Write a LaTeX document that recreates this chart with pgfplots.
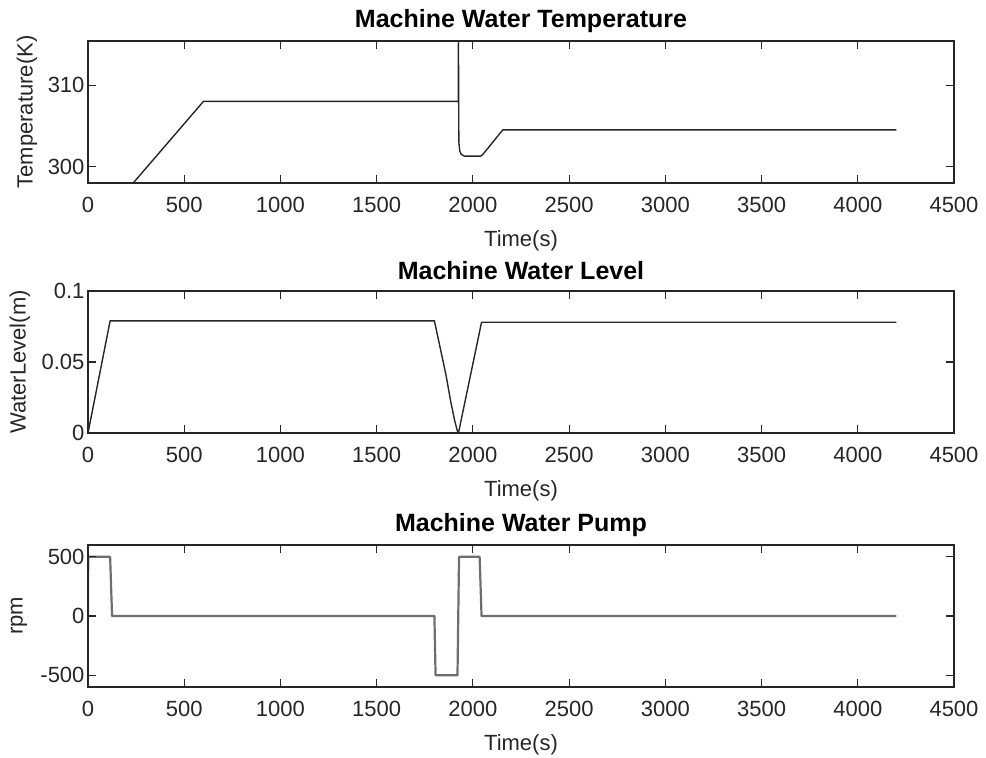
\documentclass[border=0pt]{standalone}
\usepackage{fontspec}
\setmainfont{Liberation Sans}
\usepackage{pgfplots}
\pgfplotsset{compat=1.18}

\definecolor{axgray}{RGB}{38,38,38}
\definecolor{pumpgray}{RGB}{110,110,110}

\pgfplotsset{
  mlab/.style={
    scale only axis,
    width=866pt, height=142pt,
    xmin=0, xmax=4500,
    xtick={0,500,...,4500},
    xticklabels={0,500,1000,1500,2000,2500,3000,3500,4000,4500},
    tick align=inside,
    major tick length=8pt,
    axis line style={axgray, line width=1.1pt},
    every tick/.style={axgray, line width=1.1pt},
    tick label style={font=\fontsize{22}{26}\selectfont, text=axgray},
    xticklabel style={yshift=-11pt},
    label style={font=\fontsize{22}{26}\selectfont, text=axgray},
    xlabel={Time(s)},
    xlabel style={at={(axis description cs:0.5,0)}, anchor=center, yshift=-58pt},
    title style={font=\fontsize{25}{29}\selectfont\bfseries, at={(axis description cs:0.5,1)}, anchor=center, yshift=14pt},
    axis on top,
  }
}

\begin{document}
\begin{tikzpicture}[x=1pt,y=1pt]

% temperature
\begin{axis}[mlab, at={(88pt,575pt)}, anchor=south west,
  title={Machine Water Temperature},
  ymin=298, ymax=315.4,
  ytick={300,310}, yticklabels={300,310},
  ylabel={Temperature(K)},
  ylabel style={at={(axis description cs:-0.0704,0.5)}, anchor=center}]
\addplot[axgray, line width=1.4pt, line join=round] coordinates {
(0,298) (235,298) (600,308) (1924,308) (1925,315.4) (1927,303) (1932,301.9)
(1940,301.5) (1955,301.3) (2040,301.3) (2050,301.45) (2062,301.8)
(2155,304.5) (4200,304.5)};
\end{axis}

% water level
\begin{axis}[mlab, at={(88pt,325pt)}, anchor=south west,
  title={Machine Water Level},
  ymin=0, ymax=0.1,
  ytick={0,0.05,0.1}, yticklabels={0,0.05,0.1},
  ylabel={WaterLevel(m)},
  ylabel style={at={(axis description cs:-0.0785,0.5)}, anchor=center}]
\addplot[axgray, line width=1.4pt, line join=round] coordinates {
(0,0) (115,0.079) (1800,0.079) (1830,0.060) (1860,0.041) (1885,0.022)
(1905,0.009) (1918,0.002) (1925,0) (2045,0.078) (4200,0.078)};
\end{axis}

% pump
\begin{axis}[mlab, at={(88pt,71pt)}, anchor=south west,
  title={Machine Water Pump},
  ymin=-600, ymax=600,
  ytick={-500,0,500}, yticklabels={-500,0,500},
  ylabel={rpm},
  ylabel style={at={(axis description cs:-0.0797,0.5)}, anchor=center}]
\addplot[pumpgray, line width=2.2pt, line join=round] coordinates {
(0,0) (1,500) (115,500) (125,0) (1800,0) (1806,-500) (1920,-500)
(1928,500) (2035,500) (2045,0) (4200,0)};
\end{axis}

\pgfresetboundingbox
\path[use as bounding box] (0,0) rectangle (986,758);
\end{tikzpicture}
\end{document}
